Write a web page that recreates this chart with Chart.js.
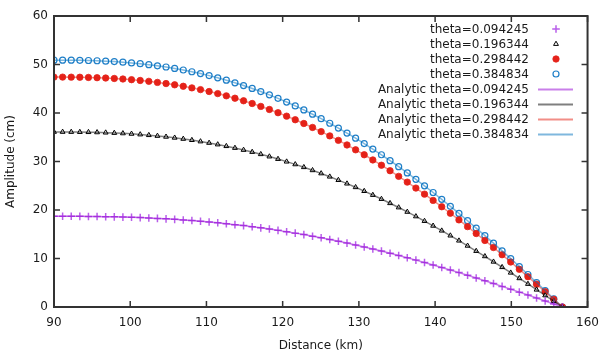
<!DOCTYPE html>
<html>
<head>
<meta charset="utf-8">
<script src="https://cdn.jsdelivr.net/npm/chart.js@4/dist/chart.umd.min.js"></script>
<style>
  html, body { margin: 0; padding: 0; background: #fff; }
</style>
</head>
<body>
<canvas id="chart" width="608" height="355"></canvas>
<script>
// distance along the profile (km), one entry per sample
const distances = [
  90.00, 91.13, 92.26, 93.39, 94.52, 95.65, 96.78, 97.91, 99.04, 100.17,
  101.31, 102.44, 103.57, 104.70, 105.83, 106.96, 108.09, 109.22, 110.35, 111.48,
  112.61, 113.74, 114.87, 116.00, 117.13, 118.26, 119.39, 120.52, 121.65, 122.78,
  123.92, 125.05, 126.18, 127.31, 128.44, 129.57, 130.70, 131.83, 132.96, 134.09,
  135.22, 136.35, 137.48, 138.61, 139.74, 140.87, 142.00, 143.13, 144.26, 145.39,
  146.53, 147.66, 148.79, 149.92, 151.05, 152.18, 153.31, 154.44, 155.57, 156.70,
];

// amplitude (cm) for each theta
const amp1 = [
  18.70, 18.70, 18.70, 18.69, 18.67, 18.65, 18.62, 18.59, 18.54, 18.49,
  18.43, 18.35, 18.27, 18.18, 18.07, 17.95, 17.82, 17.68, 17.53, 17.36,
  17.18, 16.98, 16.78, 16.55, 16.32, 16.07, 15.80, 15.53, 15.23, 14.93,
  14.60, 14.27, 13.92, 13.56, 13.18, 12.79, 12.38, 11.96, 11.53, 11.09,
  10.63, 10.16, 9.67, 9.18, 8.67, 8.15, 7.63, 7.09, 6.54, 5.98,
  5.41, 4.84, 4.25, 3.66, 3.06, 2.46, 1.85, 1.24, 0.62, 0.00,
];
const amp2 = [
  36.10, 36.10, 36.09, 36.07, 36.05, 36.01, 35.95, 35.88, 35.80, 35.70,
  35.57, 35.43, 35.27, 35.09, 34.89, 34.66, 34.41, 34.13, 33.83, 33.51,
  33.16, 32.79, 32.38, 31.96, 31.50, 31.02, 30.51, 29.97, 29.41, 28.82,
  28.19, 27.54, 26.87, 26.17, 25.44, 24.69, 23.90, 23.09, 22.26, 21.40,
  20.52, 19.61, 18.68, 17.72, 16.74, 15.74, 14.72, 13.68, 12.62, 11.54,
  10.45, 9.33, 8.21, 7.07, 5.92, 4.75, 3.57, 2.39, 1.20, 0.00,
];
const amp3 = [
  47.40, 47.40, 47.39, 47.37, 47.33, 47.28, 47.21, 47.12, 47.01, 46.87,
  46.71, 46.53, 46.31, 46.07, 45.81, 45.51, 45.18, 44.82, 44.43, 44.00,
  43.54, 43.05, 42.52, 41.96, 41.36, 40.73, 40.06, 39.35, 38.61, 37.84,
  37.02, 36.17, 35.28, 34.36, 33.41, 32.41, 31.39, 30.32, 29.23, 28.10,
  26.94, 25.75, 24.52, 23.27, 21.98, 20.67, 19.33, 17.96, 16.57, 15.15,
  13.72, 12.26, 10.78, 9.28, 7.77, 6.24, 4.69, 3.14, 1.57, 0.00,
];
const amp4 = [
  50.90, 50.90, 50.89, 50.86, 50.82, 50.77, 50.69, 50.60, 50.48, 50.33,
  50.16, 49.96, 49.73, 49.48, 49.19, 48.87, 48.51, 48.13, 47.71, 47.25,
  46.76, 46.23, 45.66, 45.06, 44.42, 43.74, 43.02, 42.26, 41.46, 40.63,
  39.75, 38.84, 37.89, 36.90, 35.87, 34.81, 33.70, 32.56, 31.39, 30.17,
  28.93, 27.65, 26.33, 24.99, 23.61, 22.20, 20.76, 19.29, 17.79, 16.27,
  14.73, 13.16, 11.57, 9.97, 8.34, 6.70, 5.04, 3.37, 1.69, 0.00,
];

const thetas = ['0.094245', '0.196344', '0.298442', '0.384834'];
const series = [amp1, amp2, amp3, amp4];

const xTicks = [90, 100, 110, 120, 130, 140, 150, 160];
const yTicks = [0, 10, 20, 30, 40, 50, 60];

const FONT = 'DejaVu Sans';
const FRAME = '#333333';

// marker look for the numeric runs, line colour for the analytic curves
const markerStyles = [
  { pointStyle: 'cross', radius: 3.8, fill: 'rgba(160,40,225,0.75)', stroke: 'rgba(160,40,225,0.75)', width: 1.5 },
  { pointStyle: 'triangle', radius: 2.8, fill: '#ffffff', stroke: '#000000', width: 1 },
  { pointStyle: 'circle', radius: 3.2, fill: '#e5231b', stroke: '#e5231b', width: 0.8 },
  { pointStyle: 'circle', radius: 3, fill: '#ffffff', stroke: '#1f7fc8', width: 1.2 },
];
const lineColors = [
  'rgba(148,0,211,0.5)',
  'rgba(0,0,0,0.5)',
  'rgba(229,30,16,0.5)',
  'rgba(0,114,189,0.5)',
];

const toPoints = (ys) => ys.map((y, i) => ({ x: distances[i], y }));

const datasets = [];
series.forEach((ys, k) => {
  const m = markerStyles[k];
  datasets.push({
    label: `theta=${thetas[k]}`,
    data: toPoints(ys),
    showLine: false,
    pointStyle: m.pointStyle,
    pointRadius: m.radius,
    pointBackgroundColor: m.fill,
    pointBorderColor: m.stroke,
    pointBorderWidth: m.width,
    order: 2,
  });
});
series.forEach((ys, k) => {
  datasets.push({
    label: `Analytic theta=${thetas[k]}`,
    data: toPoints(ys),
    showLine: true,
    borderColor: lineColors[k],
    borderWidth: 1.5,
    pointRadius: 0,
    order: 1,
  });
});

// gnuplot-like frame with inward ticks on every side
const drawFrame = function drawFrameAndTicks(chart) {
  const { ctx, chartArea: a } = chart;
  const sx = chart.scales.x;
  const sy = chart.scales.y;
  const len = 6;
  ctx.save();
  ctx.strokeStyle = FRAME;
  ctx.lineWidth = 2;
  ctx.strokeRect(a.left, a.top, a.right - a.left, a.bottom - a.top);
  ctx.lineWidth = 1.5;
  ctx.beginPath();
  xTicks.forEach((v) => {
    const px = sx.getPixelForValue(v);
    ctx.moveTo(px, a.bottom);
    ctx.lineTo(px, a.bottom - len);
    ctx.moveTo(px, a.top);
    ctx.lineTo(px, a.top + len);
  });
  yTicks.forEach((v) => {
    const py = sy.getPixelForValue(v);
    ctx.moveTo(a.left, py);
    ctx.lineTo(a.left + len, py);
    ctx.moveTo(a.right, py);
    ctx.lineTo(a.right - len, py);
  });
  ctx.stroke();
  ctx.restore();
};

// legend inside the plot: text right-aligned, sample on its right
const drawKey = function drawKeyBox(chart) {
  const { ctx } = chart;
  const textRight = 529;
  const sampleX = 556;
  const top = 29;
  const step = 15;
  ctx.save();
  ctx.font = `12px "${FONT}"`;
  ctx.textAlign = 'right';
  ctx.textBaseline = 'middle';
  chart.data.datasets.forEach((ds, i) => {
    const y = top + i * step;
    ctx.fillStyle = '#1a1a1a';
    ctx.fillText(ds.label, textRight, y + 1);
    if (i < 4) {
      const m = markerStyles[i];
      ctx.fillStyle = m.fill;
      ctx.strokeStyle = m.stroke;
      ctx.lineWidth = m.width;
      Chart.helpers.drawPoint(ctx, {
        pointStyle: m.pointStyle, radius: m.radius, rotation: 0, borderWidth: m.width,
      }, sampleX, y);
    } else {
      ctx.strokeStyle = lineColors[i - 4];
      ctx.lineWidth = 2;
      ctx.beginPath();
      ctx.moveTo(538, y + 0.5);
      ctx.lineTo(573, y + 0.5);
      ctx.stroke();
    }
  });
  ctx.restore();
};

const overlayPlugin = {
  id: 'overlay',
  afterDraw(chart) {
    drawFrame(chart);
    drawKey(chart);
  },
};

Chart.defaults.font.family = FONT;
Chart.defaults.font.size = 12;
Chart.defaults.color = '#1a1a1a';

new Chart(document.getElementById('chart'), {
  type: 'scatter',
  data: { datasets },
  options: {
    responsive: false,
    animation: false,
    events: [],
    layout: { padding: { top: 16, right: 19, left: 0, bottom: 0 } },
    plugins: {
      legend: { display: false },
      tooltip: { enabled: false },
    },
    scales: {
      x: {
        type: 'linear',
        min: 90,
        max: 160,
        afterFit(scale) { scale.height = 48; },
        afterBuildTicks(scale) { scale.ticks = xTicks.map((v) => ({ value: v })); },
        grid: { display: false, drawTicks: false },
        border: { display: false },
        ticks: { padding: 9, maxRotation: 0, autoSkip: false },
        title: { display: true, text: 'Distance (km)', padding: { top: 0, bottom: 2 } },
      },
      y: {
        type: 'linear',
        min: 0,
        max: 60,
        afterFit(scale) { scale.width = 54; },
        afterBuildTicks(scale) { scale.ticks = yTicks.map((v) => ({ value: v })); },
        grid: { display: false, drawTicks: false },
        border: { display: false },
        ticks: { padding: 6, autoSkip: false },
        title: { display: true, text: 'Amplitude (cm)', padding: { top: 4, bottom: 0 } },
      },
    },
  },
  plugins: [overlayPlugin],
});
</script>
</body>
</html>
